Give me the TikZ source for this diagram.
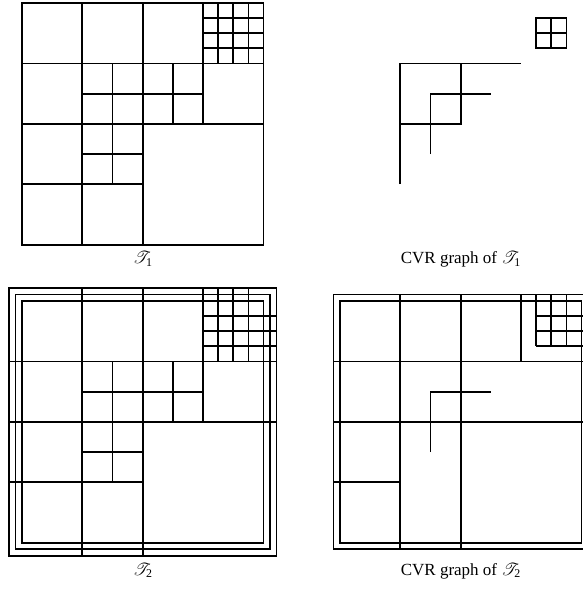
\documentclass[tikz,border=0pt]{standalone}
\usepackage{amsmath,mathrsfs}
\usepackage{fontspec}
\setmainfont{Liberation Serif}
\usepackage{tikz}
\newcommand{\pw}{0.107}
\newcommand{\pq}{0.215}
\begin{document}
\begin{tikzpicture}[x=60.4pt,y=-60.4pt,line join=miter,every node/.style={font=\fontsize{17}{20}\selectfont},ln/.style={line width=1.8pt}]
\useasboundingbox (-0.364,-0.05) rectangle (9.272,9.884);
% first tree
\draw[ln] (0,0) rectangle (4,4);
\draw[ln] (1,0)--(1,4) (2,0)--(2,4) (0,1)--(4,1) (0,2)--(4,2) (3,0)--(3,2) (0,3)--(2,3);
\draw[ln] (1.5,1)--(1.5,3) (1,1.5)--(3,1.5) (2.5,1)--(2.5,2) (1,2.5)--(2,2.5);
\foreach \f in {0.25,0.5,0.75}{\draw[ln] (3+\f,0)--(3+\f,1) (3,\f)--(4,\f);}
\node[anchor=base] (lab1) at (2,4.32) {$\mathscr{T}_{\text{1}}$};
% its CVR graph
\begin{scope}[shift={(5.265,0)}]
\draw[ln] (3.25,0.25) rectangle (3.75,0.75) (3.5,0.25)--(3.5,0.75) (3.25,0.5)--(3.75,0.5);
\draw[ln] (1,3)--(1,1)--(3,1) (2,1)--(2,2)--(1,2) (1.5,2.5)--(1.5,1.5)--(2.5,1.5);
\node[anchor=base] (cvr1) at (2,4.32) {CVR graph of $\mathscr{T}_{\text{1}}$};
\end{scope}
% second tree, with two layers of padding
\begin{scope}[shift={(0,4.934)}]
\draw[ln] (0,0) rectangle (4,4) (-\pw,-\pw) rectangle (4+\pw,4+\pw) (-\pq,-\pq) rectangle (4+\pq,4+\pq);
\draw[ln] (1,-\pq)--(1,4+\pq) (2,-\pq)--(2,4+\pq) (-\pq,1)--(4+\pq,1) (-\pq,2)--(4+\pq,2) (3,-\pq)--(3,2) (-\pq,3)--(2,3);
\draw[ln] (1.5,1)--(1.5,3) (1,1.5)--(3,1.5) (2.5,1)--(2.5,2) (1,2.5)--(2,2.5);
\foreach \f in {0.25,0.5,0.75}{\draw[ln] (3+\f,-\pq)--(3+\f,1) (3,\f)--(4+\pq,\f);}
\node[anchor=base] (lab2) at (2,4.536) {$\mathscr{T}_{\text{2}}$};
\end{scope}
% its CVR graph
\begin{scope}[shift={(5.265,4.934)}]
\draw[ln] (0,0) rectangle (4,4) (-\pw,-\pw) rectangle (4+\pw,4+\pw);
\draw[ln] (1,-\pw)--(1,4+\pw) (2,-\pw)--(2,4+\pw) (-\pw,1)--(4+\pw,1) (-\pw,2)--(4+\pw,2) (3,-\pw)--(3,1) (-\pw,3)--(1,3);
\foreach \f in {0.25,0.5,0.75}{\draw[ln] (3+\f,-\pw)--(3+\f,0.75) (3.25,\f)--(4+\pw,\f);}
\draw[ln] (1.5,2.5)--(1.5,1.5)--(2.5,1.5);
\node[anchor=base] (cvr2) at (2,4.536) {CVR graph of $\mathscr{T}_{\text{2}}$};
\end{scope}
\end{tikzpicture}
\end{document}
